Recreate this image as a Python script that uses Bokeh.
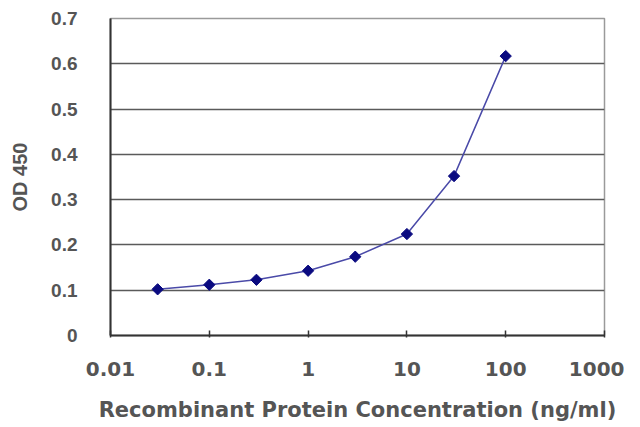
import math
from bokeh.plotting import figure
from bokeh.models import FixedTicker, Range1d
from bokeh.embed import file_html
from bokeh.resources import INLINE

conc = [0.03, 0.1, 0.3, 1, 3, 10, 30, 100]
od450 = [0.102, 0.112, 0.123, 0.143, 0.174, 0.224, 0.352, 0.617]
x_ticks = [0.01, 0.1, 1, 10, 100, 1000]
x_tick_labels = {0.01: "0.01", 0.1: "0.1", 1: "1", 10: "10", 100: "100", 1000: "1000"}
y_ticks = [0, 0.1, 0.2, 0.3, 0.4, 0.5, 0.6, 0.7]
x_title = "Recombinant Protein Concentration (ng/ml)"
y_title = "OD 450"

p = figure(frame_width=494, frame_height=317, x_axis_type="log", output_backend="svg",
           toolbar_location=None, x_range=Range1d(0.01, 1000), y_range=Range1d(0, 0.7),
           min_border_left=110, min_border_right=20, min_border_top=18, min_border_bottom=0)
p.background_fill_color = "white"
p.border_fill_color = "white"
p.outline_line_color = "#9a9a9a"
p.outline_line_width = 1.5

p.xgrid.visible = False
p.ygrid.ticker = FixedTicker(ticks=y_ticks)
p.ygrid.grid_line_color = "#5a5a5a"
p.ygrid.grid_line_width = 1.5

p.xaxis.ticker = FixedTicker(ticks=x_ticks)
p.xaxis.major_label_overrides = x_tick_labels
p.xaxis.minor_tick_line_color = None
p.xaxis.major_tick_in = 5
p.xaxis.major_tick_out = 2
p.xaxis.major_tick_line_color = "#333333"
p.xaxis.major_tick_line_width = 1.5
p.xaxis.axis_line_color = "#333333"
p.xaxis.axis_line_width = 2
p.xaxis.major_label_standoff = 24
p.xaxis.axis_label = x_title
p.xaxis.axis_label_standoff = 19
p.xaxis.major_label_text_font = "DejaVu Sans"
p.xaxis.major_label_text_font_size = "20px"
p.xaxis.axis_label_text_font = "DejaVu Sans"
p.xaxis.axis_label_text_font_size = "21px"

p.yaxis.ticker = FixedTicker(ticks=y_ticks)
p.yaxis.minor_tick_line_color = None
p.yaxis.major_tick_line_color = None
p.yaxis.axis_line_color = "#333333"
p.yaxis.axis_line_width = 2
p.yaxis.major_label_standoff = 27
p.yaxis.axis_label = y_title
p.yaxis.axis_label_standoff = 17
p.yaxis.major_label_text_font = "Liberation Sans"
p.yaxis.major_label_text_font_size = "19px"
p.yaxis.axis_label_text_font = "Liberation Sans"
p.yaxis.axis_label_text_font_size = "20px"

for ax in (p.xaxis, p.yaxis):
    ax.major_label_text_font_style = "bold"
    ax.major_label_text_color = "#555555"
    ax.axis_label_text_font_style = "bold"
    ax.axis_label_text_color = "#555555"

p.line(conc, od450, line_color="#4a4aa8", line_width=1.5)
p.scatter(conc, od450, marker="square", size=8, angle=math.pi / 4,
          fill_color="#0a0a80", line_color="#0a0a80")

open("out.html", "w").write(file_html(p, INLINE))
